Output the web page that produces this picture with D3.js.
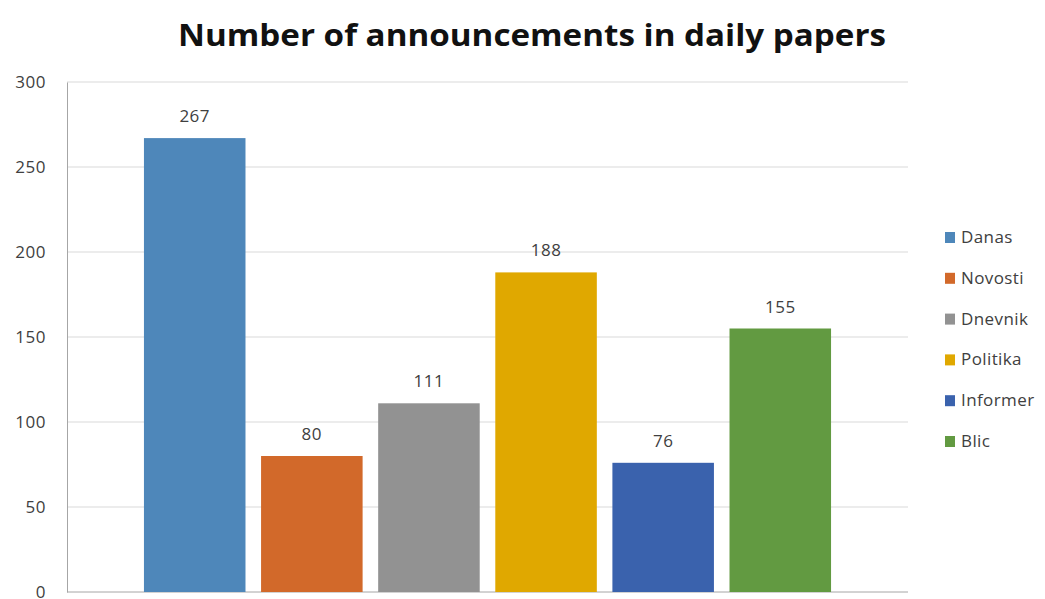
<!DOCTYPE html>
<html>
<head>
<meta charset="utf-8">
<script src="https://cdn.jsdelivr.net/npm/d3@7/dist/d3.min.js"></script>
<style>
  body { margin: 0; background: #fff; }
  text { font-family: "Open Sans", "Noto Sans", sans-serif; }
</style>
</head>
<body>
<div id="chart"></div>
<script>
// Data
const papers = ["Danas", "Novosti", "Dnevnik", "Politika", "Informer", "Blic"];
const counts = [267, 80, 111, 188, 76, 155];
const colors = ["#4e87ba", "#d2692a", "#929292", "#e0a800", "#3a62ad", "#629a41"];
const yTicks = [0, 50, 100, 150, 200, 250, 300];

const width = 1045, height = 599;
const margin = { top: 82, right: 137, bottom: 7, left: 67 };
const innerWidth = width - margin.left - margin.right;
const innerHeight = height - margin.top - margin.bottom;

const svg = d3.select("#chart")
    .append("svg")
    .attr("width", width)
    .attr("height", height);

// Title
svg.append("text")
    .attr("x", 532)
    .attr("y", 46)
    .attr("text-anchor", "middle")
    .attr("textLength", 708)
    .attr("lengthAdjust", "spacingAndGlyphs")
    .style("font-size", "30px")
    .style("font-weight", "bold")
    .style("fill", "#111")
    .text("Number of announcements in daily papers");

const g = svg.append("g")
    .attr("transform", `translate(${margin.left}, ${margin.top})`);

// Scales: one category, six series grouped in the middle
const yScale = d3.scaleLinear()
    .domain([0, 300])
    .range([innerHeight, 0]);

const groupScale = d3.scaleBand()
    .domain(["all"])
    .range([0, innerWidth])
    .paddingInner(0)
    .paddingOuter(0.112);

const xScale = d3.scaleBand()
    .domain(papers)
    .range([groupScale("all"), groupScale("all") + groupScale.bandwidth()])
    .paddingInner(0.133)
    .paddingOuter(0);

// Gridlines
g.selectAll("line.grid")
    .data(yTicks.filter(d => d > 0))
    .enter()
    .append("line")
    .attr("class", "grid")
    .attr("x1", 0)
    .attr("x2", innerWidth)
    .attr("y1", d => yScale(d))
    .attr("y2", d => yScale(d))
    .attr("stroke", "#d9d9d9")
    .attr("stroke-width", 1);

// Y axis
const yAxis = d3.axisLeft(yScale).tickValues(yTicks).tickSize(0).tickPadding(21);
const yG = g.append("g").call(yAxis);
yG.select(".domain").attr("stroke", "#a6a6a6");
yG.selectAll("text")
    .style("font-size", "17px")
    .style("letter-spacing", "0.5px")
    .style("fill", "#404040")
    .style("font-family", "'Open Sans', sans-serif");

// Baseline
g.append("line")
    .attr("x1", 0)
    .attr("x2", innerWidth)
    .attr("y1", yScale(0))
    .attr("y2", yScale(0))
    .attr("stroke", "#a6a6a6");

// Bars
g.selectAll("rect.bar")
    .data(papers)
    .enter()
    .append("rect")
    .attr("class", "bar")
    .attr("x", d => xScale(d))
    .attr("y", (d, i) => yScale(counts[i]))
    .attr("width", xScale.bandwidth())
    .attr("height", (d, i) => yScale(0) - yScale(counts[i]))
    .attr("fill", (d, i) => colors[i]);

// Value labels
g.selectAll("text.value")
    .data(papers)
    .enter()
    .append("text")
    .attr("class", "value")
    .attr("x", d => xScale(d) + xScale.bandwidth() / 2)
    .attr("y", (d, i) => yScale(counts[i]) - 16)
    .attr("text-anchor", "middle")
    .style("font-size", "17px")
    .style("letter-spacing", "0.5px")
    .style("fill", "#404040")
    .text((d, i) => counts[i]);

// Legend
const legend = svg.append("g")
    .attr("transform", "translate(945, 232)");

const item = legend.selectAll("g")
    .data(papers)
    .enter()
    .append("g")
    .attr("transform", (d, i) => `translate(0, ${i * 40.8})`);

item.append("rect")
    .attr("width", 10)
    .attr("height", 11)
    .attr("fill", (d, i) => colors[i]);

item.append("text")
    .attr("x", 16)
    .attr("y", 11)
    .style("font-size", "17px")
    .style("letter-spacing", "0.4px")
    .style("fill", "#404040")
    .text(d => d);
</script>
</body>
</html>
